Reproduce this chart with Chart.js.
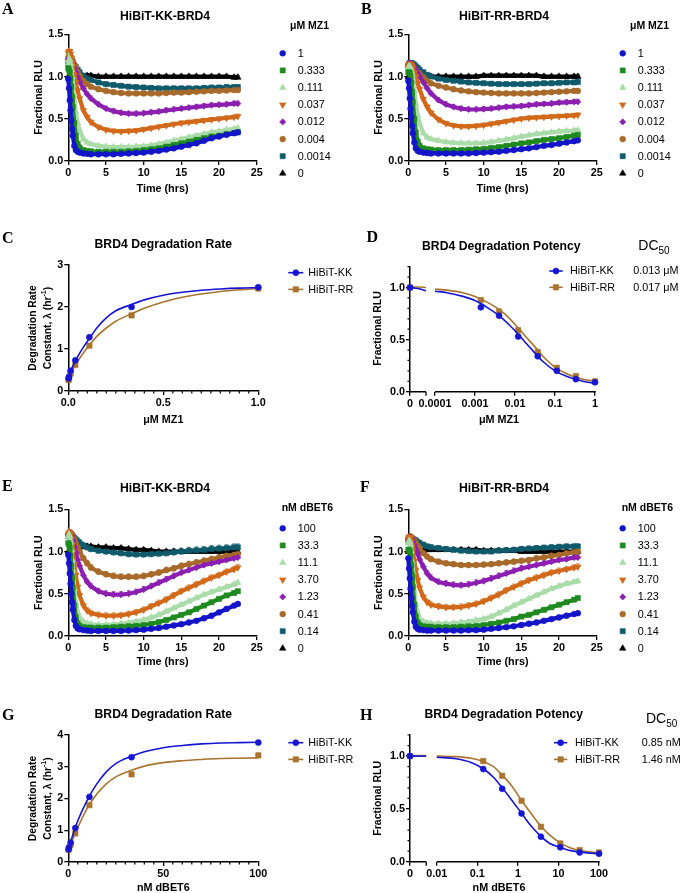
<!DOCTYPE html>
<html lang="en">
<head>
<meta charset="UTF-8">
<title>BRD4 degradation kinetics</title>
<script src="https://cdn.jsdelivr.net/npm/chart.js@4.4.1/dist/chart.umd.min.js"></script>
<style>
  html, body { margin: 0; padding: 0; background: #fff; }
  #fig { position: relative; width: 680px; height: 893px; }
  #fig canvas { position: absolute; left: 0; top: 0; }
</style>
</head>
<body>
<div id="fig">
  <canvas id="panelA" width="680" height="893"></canvas>
  <canvas id="panelB" width="680" height="893"></canvas>
  <canvas id="panelC" width="680" height="893"></canvas>
  <canvas id="panelD" width="680" height="893"></canvas>
  <canvas id="panelE" width="680" height="893"></canvas>
  <canvas id="panelF" width="680" height="893"></canvas>
  <canvas id="panelG" width="680" height="893"></canvas>
  <canvas id="panelH" width="680" height="893"></canvas>
</div>
<script>
// ---------- data ----------
// sampling times (hrs) shared by the kinetic panels
const hrs = [0, 0.1, 0.2, 0.3, 0.4, 0.5, 0.6, 0.8, 1, 1.25, 1.5, 2, 2.5, 3,
  4, 5, 6, 7, 8, 9, 10, 11, 12, 13, 14, 15, 16, 17, 18, 19, 20, 21, 22, 22.5];

// A: HiBiT-KK-BRD4, uM MZ1
const a1    = [0.97,0.86,0.72,0.60,0.48,0.38,0.30,0.18,0.13,0.11,0.10, 0.09,0.085,0.08, 0.08,0.08,0.08,0.085,0.09,0.095,0.10,0.11,0.12,0.135,0.15,0.17,0.19,0.21,0.24,0.27,0.29,0.31,0.33, 0.34];
const a333  = [1.10,1.08,1.05,0.98,0.88,0.76,0.64,0.45,0.30,0.20,0.16, 0.13,0.12,0.115, 0.11,0.11,0.11,0.11,0.115,0.12,0.13,0.14,0.15,0.17,0.19,0.21,0.23,0.25,0.27,0.29,0.30,0.32,0.33, 0.34];
const a111  = [1.15,1.20,1.20,1.15,1.08,1.00,0.90,0.72,0.58,0.45,0.36, 0.26,0.22,0.20, 0.18,0.17,0.165,0.165,0.165,0.17,0.175,0.185,0.20,0.22,0.24,0.26,0.28,0.30,0.32,0.34,0.35,0.37,0.38, 0.39];
const a037  = [1.28,1.30,1.30,1.27,1.22,1.17,1.12,1.02,0.93,0.83,0.74, 0.60,0.52,0.46, 0.40,0.37,0.355,0.35,0.355,0.36,0.375,0.39,0.405,0.42,0.435,0.45,0.46,0.47,0.48,0.49,0.50,0.51,0.52, 0.53];
const a012  = [1.20,1.22,1.22,1.21,1.19,1.17,1.15,1.10,1.05,0.99,0.94, 0.86,0.79,0.74, 0.67,0.62,0.59,0.57,0.56,0.56,0.565,0.575,0.585,0.60,0.61,0.62,0.63,0.64,0.65,0.66,0.665,0.67,0.68, 0.68];
const a004  = [1.22,1.25,1.25,1.24,1.22,1.20,1.18,1.14,1.10,1.05,1.01, 0.95,0.91,0.88, 0.85,0.83,0.815,0.805,0.80,0.80,0.80,0.80,0.80,0.805,0.81,0.81,0.815,0.82,0.825,0.83,0.83,0.835,0.84, 0.84];
const a0014 = [1.15,1.17,1.18,1.18,1.17,1.16,1.15,1.13,1.11,1.08,1.05, 1.01,0.98,0.96, 0.93,0.91,0.90,0.89,0.88,0.875,0.87,0.865,0.86,0.86,0.86,0.86,0.86,0.86,0.865,0.87,0.87,0.875,0.875, 0.875];
const a0    = [1.00,1.00,1.00,1.00,1.00,1.00,1.00,1.00,1.00,1.00,1.00, 1.00,1.01,1.01, 1.00,1.00,1.00,1.00,1.00,1.00,1.00,1.00,1.00,1.00,1.00,1.00,1.00,1.00,1.00,1.00,1.00,1.00,0.99, 0.99];
const sdA = [0.01, 0.01, 0.015, 0.025, 0.03, 0.025, 0.025, 0.025];

// B: HiBiT-RR-BRD4, uM MZ1
const b1    = [0.95,0.86,0.74,0.62,0.52,0.42,0.33,0.22,0.15,0.12,0.11, 0.10,0.095,0.09, 0.09,0.09,0.09,0.09,0.09,0.095,0.10,0.105,0.11,0.12,0.13,0.14,0.15,0.165,0.18,0.19,0.205,0.22,0.235, 0.245];
const b333  = [1.05,1.05,1.04,1.00,0.93,0.82,0.70,0.50,0.34,0.23,0.18, 0.15,0.14,0.135, 0.13,0.13,0.13,0.13,0.135,0.14,0.145,0.155,0.165,0.18,0.195,0.21,0.22,0.235,0.25,0.26,0.27,0.285,0.30, 0.31];
const b111  = [1.10,1.12,1.12,1.10,1.07,1.03,0.97,0.83,0.68,0.54,0.44, 0.33,0.28,0.26, 0.24,0.225,0.215,0.21,0.21,0.21,0.215,0.225,0.24,0.255,0.27,0.29,0.305,0.32,0.33,0.34,0.35,0.355,0.36, 0.365];
const b037  = [1.12,1.14,1.15,1.15,1.14,1.12,1.10,1.05,1.00,0.92,0.85, 0.73,0.64,0.57, 0.49,0.445,0.42,0.41,0.41,0.415,0.425,0.44,0.455,0.47,0.485,0.50,0.51,0.515,0.52,0.525,0.53,0.535,0.54, 0.545];
const b012  = [1.13,1.15,1.16,1.16,1.15,1.14,1.13,1.11,1.08,1.04,1.00, 0.93,0.86,0.80, 0.72,0.67,0.64,0.62,0.61,0.61,0.615,0.62,0.63,0.64,0.645,0.65,0.66,0.67,0.675,0.68,0.69,0.695,0.70, 0.70];
const b004  = [1.12,1.14,1.15,1.15,1.14,1.13,1.12,1.10,1.08,1.05,1.03, 0.99,0.95,0.92, 0.89,0.87,0.85,0.835,0.825,0.815,0.81,0.805,0.80,0.80,0.80,0.80,0.80,0.805,0.81,0.815,0.82,0.825,0.83, 0.83];
const b0014 = [1.13,1.15,1.16,1.16,1.16,1.15,1.15,1.14,1.12,1.10,1.08, 1.05,1.02,1.00, 0.975,0.96,0.95,0.94,0.93,0.925,0.92,0.915,0.91,0.91,0.91,0.91,0.91,0.915,0.92,0.92,0.925,0.93,0.93, 0.935];
const b0    = [1.00,1.00,1.00,1.00,1.00,1.00,1.00,1.00,1.00,1.00,1.00, 1.00,1.00,1.00, 1.00,1.00,1.00,1.00,1.00,1.00,1.01,1.01,1.01,1.01,1.01,1.01,1.01,1.01,1.00,1.00,1.00,1.00,1.00, 1.00];
const sdB = [0.01, 0.01, 0.02, 0.025, 0.03, 0.025, 0.025, 0.025];

// E: HiBiT-KK-BRD4, nM dBET6
const e100 = [0.96,0.86,0.74,0.62,0.50,0.40,0.31,0.19,0.12,0.09,0.08, 0.07,0.065,0.06, 0.06,0.06,0.06,0.06,0.065,0.07,0.075,0.085,0.095,0.11,0.125,0.14,0.16,0.18,0.21,0.24,0.28,0.32,0.36, 0.38];
const e333 = [1.10,1.08,1.04,0.95,0.83,0.70,0.57,0.36,0.22,0.15,0.12, 0.105,0.10,0.10, 0.10,0.10,0.105,0.11,0.115,0.12,0.13,0.145,0.165,0.19,0.22,0.25,0.28,0.32,0.36,0.40,0.44,0.48,0.51, 0.53];
const e111 = [1.18,1.20,1.18,1.12,1.02,0.90,0.78,0.56,0.40,0.28,0.22, 0.17,0.15,0.14, 0.13,0.13,0.135,0.145,0.155,0.17,0.19,0.22,0.25,0.29,0.33,0.37,0.41,0.45,0.49,0.52,0.55,0.58,0.61, 0.63];
const e370 = [1.20,1.22,1.22,1.20,1.15,1.08,1.00,0.85,0.72,0.58,0.48, 0.36,0.30,0.27, 0.25,0.24,0.24,0.245,0.26,0.28,0.31,0.35,0.39,0.43,0.48,0.53,0.57,0.61,0.65,0.69,0.72,0.76,0.79, 0.81];
const e123 = [1.20,1.22,1.22,1.21,1.19,1.16,1.13,1.06,0.99,0.90,0.83, 0.72,0.64,0.59, 0.53,0.50,0.49,0.49,0.50,0.52,0.55,0.59,0.63,0.67,0.71,0.75,0.78,0.81,0.84,0.86,0.88,0.90,0.92, 0.93];
const e041 = [1.20,1.22,1.23,1.22,1.21,1.20,1.18,1.14,1.10,1.05,1.00, 0.92,0.86,0.81, 0.76,0.73,0.71,0.70,0.70,0.70,0.71,0.73,0.75,0.78,0.80,0.83,0.85,0.87,0.89,0.91,0.93,0.95,0.96, 0.97];
const e014 = [1.18,1.20,1.21,1.21,1.20,1.19,1.18,1.16,1.14,1.12,1.10, 1.07,1.05,1.03, 1.01,1.00,0.99,0.98,0.97,0.965,0.965,0.97,0.975,0.98,0.99,1.00,1.01,1.015,1.02,1.03,1.035,1.04,1.05, 1.05];
const e0   = [1.00,1.00,1.00,1.00,1.00,1.00,1.00,1.00,1.02,1.04,1.05, 1.06,1.06,1.06, 1.05,1.05,1.04,1.04,1.03,1.02,1.02,1.01,1.00,1.00,1.00,1.00,1.00,1.00,1.00,1.00,1.00,1.00,1.00, 1.00];
const sdE = [0.01, 0.015, 0.025, 0.035, 0.035, 0.035, 0.04, 0.025];

// F: HiBiT-RR-BRD4, nM dBET6
const f100 = [0.92,0.80,0.68,0.56,0.45,0.36,0.28,0.17,0.11,0.085,0.075, 0.07,0.065,0.065, 0.065,0.065,0.065,0.065,0.07,0.07,0.075,0.085,0.095,0.105,0.115,0.13,0.145,0.16,0.18,0.20,0.22,0.24,0.26, 0.27];
const f333 = [1.02,1.02,1.00,0.94,0.84,0.72,0.58,0.37,0.23,0.16,0.13, 0.115,0.11,0.11, 0.105,0.105,0.105,0.11,0.115,0.12,0.13,0.145,0.16,0.18,0.20,0.23,0.25,0.28,0.31,0.34,0.37,0.40,0.43, 0.45];
const f111 = [1.10,1.12,1.12,1.08,1.00,0.88,0.76,0.54,0.38,0.27,0.21, 0.17,0.155,0.15, 0.145,0.145,0.15,0.16,0.17,0.185,0.20,0.23,0.27,0.31,0.36,0.40,0.44,0.48,0.52,0.56,0.59,0.62,0.64, 0.65];
const f370 = [1.15,1.17,1.17,1.16,1.12,1.07,1.01,0.89,0.78,0.66,0.57, 0.46,0.40,0.37, 0.35,0.34,0.34,0.345,0.36,0.38,0.41,0.45,0.49,0.54,0.58,0.62,0.66,0.69,0.72,0.75,0.77,0.79,0.81, 0.82];
const f123 = [1.15,1.17,1.17,1.17,1.16,1.15,1.13,1.08,1.03,0.97,0.91, 0.82,0.74,0.69, 0.64,0.62,0.605,0.60,0.61,0.63,0.65,0.68,0.71,0.74,0.77,0.80,0.82,0.84,0.86,0.88,0.90,0.91,0.93, 0.93];
const f041 = [1.15,1.17,1.18,1.18,1.17,1.16,1.15,1.13,1.10,1.07,1.04, 0.98,0.94,0.91, 0.88,0.86,0.85,0.84,0.84,0.84,0.845,0.85,0.86,0.87,0.88,0.89,0.90,0.92,0.93,0.95,0.96,0.98,0.99, 1.00];
const f014 = [1.13,1.15,1.16,1.16,1.16,1.15,1.15,1.14,1.13,1.11,1.10, 1.08,1.06,1.05, 1.04,1.03,1.02,1.01,1.005,1.00,1.00,1.00,1.01,1.015,1.02,1.03,1.035,1.04,1.045,1.05,1.055,1.06,1.06, 1.06];
const f0   = [1.00,1.00,1.00,1.00,1.00,1.00,1.00,1.00,1.00,1.00,1.00, 1.01,1.02,1.02, 1.02,1.02,1.02,1.02,1.02,1.02,1.01,1.01,1.01,1.01,1.01,1.00,1.00,1.00,1.00,1.00,1.00,1.00,1.00, 1.00];
const sdF = [0.01, 0.015, 0.025, 0.035, 0.035, 0.03, 0.03, 0.025];

const mz1Doses = ['1', '0.333', '0.111', '0.037', '0.012', '0.004', '0.0014', '0'];
const dbet6Doses = ['100', '33.3', '11.1', '3.70', '1.23', '0.41', '0.14', '0'];
const cellLines = ['HiBiT-KK', 'HiBiT-RR'];

// C: degradation rate vs uM MZ1
const doseC = [0.0014, 0.004, 0.012, 0.037, 0.111, 0.333, 1];
const rateKKc = [0.30, 0.34, 0.48, 0.73, 1.28, 2.00, 2.47];
const rateRRc = [0.26, 0.30, 0.42, 0.62, 1.08, 1.80, 2.44];
const fitXc = [0, 0.005, 0.012, 0.025, 0.037, 0.06, 0.085, 0.111, 0.15, 0.2, 0.25, 0.333, 0.4, 0.5, 0.6, 0.7, 0.8, 0.9, 1.0];
const fitKKc = [0.28, 0.36, 0.47, 0.60, 0.71, 0.90, 1.08, 1.25, 1.50, 1.74, 1.91, 2.06, 2.17, 2.28, 2.35, 2.40, 2.43, 2.45, 2.46];
const fitRRc = [0.24, 0.31, 0.41, 0.52, 0.62, 0.78, 0.94, 1.09, 1.30, 1.50, 1.66, 1.84, 1.97, 2.12, 2.23, 2.31, 2.37, 2.41, 2.44];

// D: potency vs uM MZ1
const doseD = [0, 0.0014, 0.004, 0.012, 0.037, 0.111, 0.333, 1];
const rluKKd = [1.00, 0.81, 0.73, 0.53, 0.34, 0.20, 0.12, 0.09];
const rluRRd = [1.00, 0.88, 0.77, 0.59, 0.38, 0.23, 0.15, 0.10];
const fitXd = [0.0001, 0.0002, 0.0005, 0.001, 0.002, 0.004, 0.007, 0.01, 0.015, 0.02, 0.03, 0.05, 0.1, 0.2, 0.5, 1];
const fitKKd = [0.965, 0.95, 0.915, 0.875, 0.81, 0.73, 0.645, 0.585, 0.51, 0.455, 0.38, 0.29, 0.20, 0.145, 0.10, 0.08];
const fitRRd = [0.985, 0.975, 0.95, 0.915, 0.86, 0.79, 0.71, 0.645, 0.57, 0.515, 0.44, 0.34, 0.235, 0.17, 0.12, 0.10];
const zeroFitKKd = [1.00, 0.99, 0.97];
const zeroFitRRd = [1.005, 1.005, 1.00];
const dc50D = ['0.013 μM', '0.017 μM'];
const doseTicksD = ['0', '0.0001', '0.001', '0.01', '0.1', '1'];

// G: degradation rate vs nM dBET6
const doseG = [0.14, 0.41, 1.23, 3.7, 11.1, 33.3, 100];
const rateKKg = [0.40, 0.46, 0.61, 1.07, 2.05, 3.30, 3.76];
const rateRRg = [0.38, 0.44, 0.55, 0.90, 1.79, 2.76, 3.36];
const fitXg = [0, 2, 5, 10, 15, 20, 25, 33.3, 40, 50, 60, 70, 80, 90, 100];
const fitKKg = [0.38, 0.78, 1.30, 1.95, 2.46, 2.84, 3.10, 3.33, 3.47, 3.60, 3.67, 3.72, 3.75, 3.76, 3.77];
const fitRRg = [0.36, 0.66, 1.09, 1.70, 2.14, 2.46, 2.68, 2.89, 3.02, 3.13, 3.19, 3.23, 3.26, 3.27, 3.28];

// H: potency vs nM dBET6
const doseH = [0, 0.14, 0.41, 1.23, 3.7, 11.1, 33.3, 100];
const rluKKh = [1.00, 0.877, 0.69, 0.457, 0.237, 0.136, 0.088, 0.076];
const rluRRh = [1.00, 0.953, 0.814, 0.577, 0.331, 0.173, 0.11, 0.088];
const fitXh = [0.01, 0.03, 0.07, 0.14, 0.25, 0.41, 0.7, 1.23, 2, 3.7, 6, 11.1, 20, 40, 100];
const fitKKh = [0.99, 0.975, 0.94, 0.88, 0.80, 0.70, 0.585, 0.46, 0.35, 0.24, 0.175, 0.135, 0.105, 0.088, 0.075];
const fitRRh = [1.00, 0.995, 0.98, 0.95, 0.90, 0.82, 0.72, 0.58, 0.47, 0.335, 0.255, 0.178, 0.13, 0.10, 0.085];
const zeroFitKKh = [1.00, 1.00, 1.00];
const zeroFitRRh = [1.005, 1.005, 1.005];
const dc50H = ['0.85 nM', '1.46 nM'];
const doseTicksH = ['0', '0.01', '0.1', '1', '10', '100'];

// tick values
const timeTicks = [0, 5, 10, 15, 20, 25];
const rluTicks = [0, 0.5, 1.0, 1.5];
const potencyTicks = [0, 0.5, 1.0];
const rateTicksC = [0, 1, 2, 3];
const doseTicksC = [0, 0.5, 1.0];
const rateTicksG = [0, 1, 2, 3, 4];
const doseTicksG = [0, 50, 100];

// ---------- styling ----------
const W = 680, H = 893, YW = 40, XH = 30;
const SANS = "'Liberation Sans', Arial, Helvetica, sans-serif";
const SERIF = "'Liberation Serif', 'Times New Roman', serif";
const bold = s => `bold ${s}px ${SANS}`;
const reg = s => `${s}px ${SANS}`;

const doseColors = ['#1414c8', '#1f8a1f', '#a9dca9', '#d2691a', '#8c1fb0', '#a86a2a', '#0f5b6b', '#000000'];
const marks = [
  { s: 'circle', r: 2.9, rot: 0 },
  { s: 'rect', r: 3.6, rot: 0 },
  { s: 'triangle', r: 3.7, rot: 0 },
  { s: 'triangle', r: 3.7, rot: 180 },
  { s: 'rectRot', r: 3.1, rot: 0 },
  { s: 'circle', r: 2.9, rot: 0 },
  { s: 'rect', r: 3.6, rot: 0 },
  { s: 'triangle', r: 3.7, rot: 0 }
];
const lineColors = ['#1515d2', '#a8742f'];
const lineMarks = [{ s: 'circle', r: 3.0, rot: 0 }, { s: 'rect', r: 3.8, rot: 0 }];

Chart.defaults.font.family = SANS;
Chart.defaults.color = '#000';
Chart.defaults.animation = false;
Chart.defaults.plugins.legend.display = false;
Chart.defaults.plugins.tooltip.enabled = false;

function pad(a) {
  return { left: a.left - YW, top: a.top, right: W - a.right, bottom: H - a.bottom - XH };
}

function axis(min, max, ticks, fmt, dir, extra) {
  return Object.assign({
    type: 'linear', min: min, max: max,
    afterBuildTicks: s => { s.ticks = ticks.map(v => ({ value: v })); },
    afterFit: s => { if (dir === 'x') s.height = XH; else s.width = YW; },
    ticks: { font: { size: 10.8, weight: 'bold' }, color: '#000', padding: dir === 'x' ? 2 : 1,
             autoSkip: false, maxRotation: 0, callback: (v, i) => fmt(v, i) },
    grid: { drawOnChartArea: false, drawTicks: true, tickLength: 4, color: '#000', lineWidth: 1.3 },
    border: { display: true, color: '#000', width: 1.5 }
  }, extra || {});
}

function drawMark(ctx, st, x, y, color) {
  const r = st.r;
  ctx.save();
  ctx.fillStyle = color; ctx.strokeStyle = color; ctx.lineWidth = 0.6;
  ctx.translate(x, y); ctx.rotate(st.rot * Math.PI / 180);
  ctx.beginPath();
  if (st.s === 'circle') ctx.arc(0, 0, r, 0, Math.PI * 2);
  else if (st.s === 'rect') { const h = r * Math.SQRT1_2; ctx.rect(-h, -h, 2 * h, 2 * h); }
  else if (st.s === 'rectRot') { ctx.moveTo(-r, 0); ctx.lineTo(0, -r); ctx.lineTo(r, 0); ctx.lineTo(0, r); }
  else {
    for (let k = 0; k < 3; k++) {
      const a = k * 2 * Math.PI / 3;
      if (k === 0) ctx.moveTo(Math.sin(a) * r, -Math.cos(a) * r); else ctx.lineTo(Math.sin(a) * r, -Math.cos(a) * r);
    }
  }
  ctx.closePath(); ctx.fill(); ctx.stroke();
  ctx.restore();
}

function drawRotated(ctx, parts, cx, cy) {
  ctx.save();
  ctx.translate(cx, cy); ctx.rotate(-Math.PI / 2);
  ctx.textBaseline = 'middle'; ctx.textAlign = 'left';
  const widths = parts.map(p => { ctx.font = p.f; return ctx.measureText(p.t).width; });
  let x = -widths.reduce((s, w) => s + w, 0) / 2;
  parts.forEach((p, i) => { ctx.font = p.f; ctx.fillText(p.t, x, p.dy || 0); x += widths[i]; });
  ctx.restore();
}

// error bars under the kinetic traces
const errBars = {
  id: 'errBars',
  beforeDatasetsDraw(chart) {
    const ctx = chart.ctx, ys = chart.scales.y;
    chart.data.datasets.forEach((ds, i) => {
      if (!ds.sd) return;
      const meta = chart.getDatasetMeta(i);
      ctx.save();
      ctx.strokeStyle = ds.borderColor; ctx.globalAlpha = 0.85; ctx.lineWidth = 0.9;
      ctx.beginPath();
      meta.data.forEach((pt, j) => {
        if (j < 8) return;
        const v = ds.data[j].y;
        const yTop = ys.getPixelForValue(v + ds.sd), yBot = ys.getPixelForValue(v - ds.sd);
        ctx.moveTo(pt.x, yBot); ctx.lineTo(pt.x, yTop);
        ctx.moveTo(pt.x - 1.8, yTop); ctx.lineTo(pt.x + 1.8, yTop);
      });
      ctx.stroke();
      ctx.restore();
    });
  }
};

// titles, letters, legends, minor ticks, broken axis
function decor(cfg) {
  return {
    id: 'decor',
    afterDraw(chart) {
      const ctx = chart.ctx, ca = chart.chartArea;
      ctx.save();
      ctx.fillStyle = '#000'; ctx.strokeStyle = '#000';
      ctx.textBaseline = 'alphabetic';

      ctx.font = `bold 16px ${SERIF}`; ctx.textAlign = 'left';
      ctx.fillText(cfg.letter[0], cfg.letter[1], cfg.letter[2]);

      ctx.font = bold(12.2); ctx.textAlign = 'center';
      ctx.fillText(cfg.title[0], cfg.title[1], cfg.title[2]);

      ctx.font = bold(10.8); ctx.textBaseline = 'middle';
      ctx.fillText(cfg.xTitle[0], cfg.xTitle[1], cfg.xTitle[2]);

      cfg.yTitle.forEach(l => drawRotated(ctx, l.parts, l.x, l.y));

      // minor ticks
      ctx.lineWidth = 1.2;
      ctx.beginPath();
      (cfg.minorX || []).forEach(v => {
        const x = chart.scales.x.getPixelForValue(v);
        ctx.moveTo(x, ca.bottom); ctx.lineTo(x, ca.bottom + 2.5);
      });
      (cfg.minorY || []).forEach(v => {
        const y = chart.scales.y.getPixelForValue(v);
        ctx.moveTo(ca.left, y); ctx.lineTo(ca.left - 2.5, y);
      });
      ctx.stroke();

      // broken x axis
      if (cfg.brk) {
        const xs = chart.scales.x;
        const e = xs.getPixelForValue(cfg.brk[0]), s = xs.getPixelForValue(cfg.brk[1]);
        ctx.lineWidth = 1.5;
        ctx.beginPath();
        ctx.moveTo(ca.left - 0.75, ca.bottom); ctx.lineTo(e, ca.bottom);
        ctx.moveTo(s, ca.bottom); ctx.lineTo(ca.right + 0.75, ca.bottom);
        ctx.stroke();
        ctx.lineWidth = 1.3;
        ctx.beginPath(); ctx.moveTo(e, ca.bottom); ctx.lineTo(e, ca.bottom + 4); ctx.stroke();
      }

      // dose legend (kinetic panels)
      if (cfg.doseLegend) {
        const L = cfg.doseLegend;
        ctx.font = bold(10.5); ctx.textAlign = 'left'; ctx.textBaseline = 'alphabetic';
        ctx.fillText(L.header, L.hx, L.hy);
        ctx.font = reg(10.8); ctx.textBaseline = 'middle';
        L.labels.forEach((lab, i) => {
          const y = L.y0 + i * L.dy;
          drawMark(ctx, marks[i], L.mx, y, doseColors[i]);
          ctx.fillStyle = '#000';
          ctx.fillText(lab, L.tx, y + 0.5);
        });
      }

      // line legend (summary panels)
      if (cfg.lineLegend) {
        const L = cfg.lineLegend;
        ctx.font = reg(10.8); ctx.textAlign = 'left'; ctx.textBaseline = 'middle';
        cellLines.forEach((lab, i) => {
          const y = L.y0 + i * L.dy;
          ctx.strokeStyle = lineColors[i]; ctx.lineWidth = 1.6;
          ctx.beginPath(); ctx.moveTo(L.x0, y); ctx.lineTo(L.x1, y); ctx.stroke();
          drawMark(ctx, lineMarks[i], (L.x0 + L.x1) / 2, y, lineColors[i]);
          ctx.fillStyle = '#000';
          ctx.fillText(lab, L.tx, y + 0.5);
        });
      }

      // DC50 column
      if (cfg.dc) {
        const D = cfg.dc;
        ctx.fillStyle = '#000'; ctx.textAlign = 'left'; ctx.textBaseline = 'alphabetic';
        ctx.font = reg(14);
        ctx.fillText('DC', D.x, D.y);
        const w = ctx.measureText('DC').width;
        ctx.font = reg(10);
        ctx.fillText('50', D.x + w, D.y + 3.5);
        ctx.font = reg(10.8); ctx.textBaseline = 'middle';
        D.values.forEach((v, i) => ctx.fillText(v, D.vx, D.vy0 + i * D.dy + 0.5));
      }
      ctx.restore();
    }
  };
}

// ---------- kinetic panels ----------
function timeChart(id, area, series, sd, doses, header, cfg) {
  cfg.doseLegend = Object.assign({ header: header, labels: doses }, cfg.doseLegend);
  new Chart(document.getElementById(id), {
    type: 'scatter',
    data: {
      datasets: series.map((vals, i) => ({
        label: doses[i],
        data: vals.map((v, j) => ({ x: hrs[j], y: v })),
        showLine: true, borderWidth: 4.2, borderColor: doseColors[i], backgroundColor: doseColors[i],
        pointStyle: marks[i].s, pointRotation: marks[i].rot, pointRadius: marks[i].r,
        pointBorderWidth: 0.6, clip: false, sd: sd[i]
      }))
    },
    options: {
      responsive: false,
      layout: { padding: pad(area) },
      scales: {
        x: axis(0, 25, timeTicks, v => v, 'x'),
        y: axis(0, 1.5, rluTicks, v => v.toFixed(1), 'y')
      }
    },
    plugins: [errBars, decor(cfg)]
  });
}

const rluTitle = (x, y) => [{ x: x, y: y, parts: [{ t: 'Fractional RLU', f: bold(10.5) }] }];
const rateTitle = (x1, x2, y) => [
  { x: x1, y: y, parts: [{ t: 'Degradation Rate', f: bold(10.3) }] },
  { x: x2, y: y, parts: [{ t: 'Constant, λ (hr', f: bold(10.3) }, { t: '-1', f: bold(7), dy: -3.5 }, { t: ')', f: bold(10.3) }] }
];

timeChart('panelA', { left: 68.3, top: 34.3, right: 256.7, bottom: 161 },
  [a1, a333, a111, a037, a012, a004, a0014, a0], sdA, mz1Doses, 'μM MZ1', {
    letter: ['A', 2, 13.5], title: ['HiBiT-KK-BRD4', 165, 20], xTitle: ['Time (hrs)', 162.5, 189],
    yTitle: rluTitle(39.5, 97.5),
    doseLegend: { hx: 290, hy: 28.5, mx: 282.7, tx: 297.7, y0: 53.3, dy: 17.15 }
  });
timeChart('panelB', { left: 408.3, top: 34.3, right: 596.7, bottom: 161 },
  [b1, b333, b111, b037, b012, b004, b0014, b0], sdB, mz1Doses, 'μM MZ1', {
    letter: ['B', 361, 13.5], title: ['HiBiT-RR-BRD4', 504, 20], xTitle: ['Time (hrs)', 502.5, 189],
    yTitle: rluTitle(379.5, 97.5),
    doseLegend: { hx: 630, hy: 28.5, mx: 622.7, tx: 637.7, y0: 53.3, dy: 17.15 }
  });
timeChart('panelE', { left: 68.3, top: 509.3, right: 256.7, bottom: 636 },
  [e100, e333, e111, e370, e123, e041, e014, e0], sdE, dbet6Doses, 'nM dBET6', {
    letter: ['E', 2, 490.5], title: ['HiBiT-KK-BRD4', 165, 492], xTitle: ['Time (hrs)', 162.5, 662],
    yTitle: rluTitle(39.5, 572.7),
    doseLegend: { hx: 281.7, hy: 510.5, mx: 282.7, tx: 297.7, y0: 528.3, dy: 17.15 }
  });
timeChart('panelF', { left: 408.3, top: 509.3, right: 596.7, bottom: 636 },
  [f100, f333, f111, f370, f123, f041, f014, f0], sdF, dbet6Doses, 'nM dBET6', {
    letter: ['F', 360, 491.5], title: ['HiBiT-RR-BRD4', 504, 492], xTitle: ['Time (hrs)', 502.5, 662],
    yTitle: rluTitle(379.5, 572.7),
    doseLegend: { hx: 621.7, hy: 510.5, mx: 622.7, tx: 637.7, y0: 528.3, dy: 17.15 }
  });

// ---------- rate panels (linear dose axis) ----------
function rateChart(id, area, xMax, xTicks, xFmt, yMax, yTicks, minorX, fitX, fits, dose, rates, cfg) {
  const datasets = [];
  [0, 1].forEach(i => {
    datasets.push({
      data: dose.map((d, j) => ({ x: d, y: rates[i][j] })),
      showLine: false, backgroundColor: lineColors[i], borderColor: lineColors[i],
      pointStyle: lineMarks[i].s, pointRadius: lineMarks[i].r, pointBorderWidth: 0.6, clip: false
    });
    datasets.push({
      data: fitX.map((x, j) => ({ x: x, y: fits[i][j] })),
      showLine: true, borderColor: lineColors[i], borderWidth: 1.6, pointRadius: 0,
      cubicInterpolationMode: 'monotone', clip: false
    });
  });
  cfg.minorX = minorX;
  new Chart(document.getElementById(id), {
    type: 'scatter',
    data: { datasets: datasets },
    options: {
      responsive: false,
      layout: { padding: pad(area) },
      scales: {
        x: axis(0, xMax, xTicks, xFmt, 'x'),
        y: axis(0, yMax, yTicks, v => String(v), 'y')
      }
    },
    plugins: [decor(cfg)]
  });
}

const minorC = [], minorG = [];
for (let k = 1; k < 20; k++) if (k !== 10) { minorC.push(k * 0.05); minorG.push(k * 5); }

rateChart('panelC', { left: 68.3, top: 265, right: 258.3, bottom: 391 }, 1, doseTicksC, v => v.toFixed(1),
  3, rateTicksC, minorC, fitXc, [fitKKc, fitRRc], doseC, [rateKKc, rateRRc], {
    letter: ['C', 2, 243], title: ['BRD4 Degradation Rate', 163.3, 247.5], xTitle: ['μM MZ1', 163.3, 420.5],
    yTitle: rateTitle(32.7, 47.7, 328),
    lineLegend: { x0: 288.3, x1: 303.3, tx: 308.3, y0: 272.7, dy: 16.7 }
  });
rateChart('panelG', { left: 68.3, top: 735, right: 258.3, bottom: 862 }, 100, doseTicksG, v => String(v),
  4, rateTicksG, minorG, fitXg, [fitKKg, fitRRg], doseG, [rateKKg, rateRRg], {
    letter: ['G', 2, 720], title: ['BRD4 Degradation Rate', 163.3, 717.7], xTitle: ['nM dBET6', 163.3, 888.5],
    yTitle: rateTitle(32.7, 47.7, 798.5),
    lineLegend: { x0: 288.3, x1: 303.3, tx: 308.3, y0: 742.7, dy: 16.7 }
  });

// ---------- potency panels (log dose axis with a break at zero) ----------
const BREAK = 0.4; // decades of axis kept for the zero-dose segment
function potencyChart(id, area, zeroGap, tickLabels, dose, rlus, fitX, fits, zeroFits, cfg) {
  const firstDec = Math.log10(+tickLabels[1]);
  const zeroPos = firstDec - zeroGap;
  const xMax = Math.log10(+tickLabels[tickLabels.length - 1]);
  const pos = d => (d === 0 ? zeroPos : Math.log10(d));
  const tickVals = tickLabels.map(l => (l === '0' ? zeroPos : Math.log10(+l)));
  const datasets = [];
  [0, 1].forEach(i => {
    datasets.push({
      data: dose.map((d, j) => ({ x: pos(d), y: rlus[i][j] })),
      showLine: false, backgroundColor: lineColors[i], borderColor: lineColors[i],
      pointStyle: lineMarks[i].s, pointRadius: lineMarks[i].r, pointBorderWidth: 0.6, clip: false
    });
    datasets.push({
      data: fitX.map((x, j) => ({ x: Math.log10(x), y: fits[i][j] })),
      showLine: true, borderColor: lineColors[i], borderWidth: 1.6, pointRadius: 0,
      cubicInterpolationMode: 'monotone', clip: false
    });
    datasets.push({
      data: zeroFits[i].map((v, j) => ({ x: zeroPos + j * BREAK / (zeroFits[i].length - 1), y: v })),
      showLine: true, borderColor: lineColors[i], borderWidth: 1.6, pointRadius: 0,
      cubicInterpolationMode: 'monotone', clip: false
    });
  });
  cfg.brk = [zeroPos + BREAK, firstDec];
  cfg.minorY = [0.1, 0.2, 0.3, 0.4, 0.6, 0.7, 0.8, 0.9, 1.1, 1.2];
  new Chart(document.getElementById(id), {
    type: 'scatter',
    data: { datasets: datasets },
    options: {
      responsive: false,
      layout: { padding: pad(area) },
      scales: {
        x: axis(zeroPos, xMax, tickVals, (v, i) => tickLabels[i], 'x', { border: { display: false } }),
        y: axis(0, 1.2, potencyTicks, v => v.toFixed(1), 'y')
      }
    },
    plugins: [decor(cfg)]
  });
}

potencyChart('panelD', { left: 410, top: 266.7, right: 595, bottom: 391.7 }, 0.625, doseTicksD,
  doseD, [rluKKd, rluRRd], fitXd, [fitKKd, fitRRd], [zeroFitKKd, zeroFitRRd], {
    letter: ['D', 366.5, 241.7], title: ['BRD4 Degradation Potency', 501.3, 250], xTitle: ['μM MZ1', 499, 420.5],
    yTitle: rluTitle(378.3, 328.5),
    lineLegend: { x0: 549.3, x1: 562.7, tx: 570, y0: 271, dy: 16.3 },
    dc: { x: 638.3, y: 250, vx: 633.3, vy0: 271, dy: 16.3, values: dc50D }
  });
potencyChart('panelH', { left: 410, top: 735, right: 599, bottom: 861.7 }, 0.66, doseTicksH,
  doseH, [rluKKh, rluRRh], fitXh, [fitKKh, fitRRh], [zeroFitKKh, zeroFitRRh], {
    letter: ['H', 360, 720], title: ['BRD4 Degradation Potency', 503.8, 717.7], xTitle: ['nM dBET6', 499, 888.5],
    yTitle: rluTitle(378.3, 798.3),
    lineLegend: { x0: 554, x1: 567.3, tx: 575, y0: 742.7, dy: 16.7 },
    dc: { x: 646, y: 723, vx: 641.7, vy0: 742.7, dy: 16.7, values: dc50H }
  });
</script>
</body>
</html>
